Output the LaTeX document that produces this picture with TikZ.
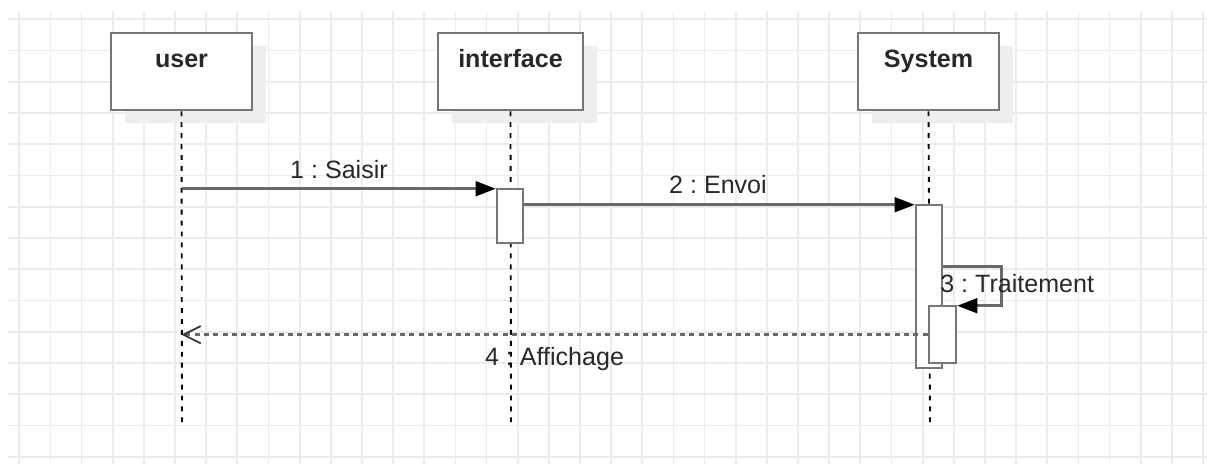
\documentclass[tikz,border=0pt]{standalone}
\usepackage{fontspec}
\setmainfont{Liberation Sans}
\usetikzlibrary{arrows.meta,calc,shadows}
\frenchspacing
\definecolor{gridc}{RGB}{236,236,236}
\definecolor{shadc}{RGB}{238,238,238}
\definecolor{boxc}{RGB}{118,118,118}
\definecolor{linec}{RGB}{105,105,105}
\definecolor{txtc}{RGB}{40,40,40}
\tikzset{
  gridline/.style={draw=gridc,line width=1.3pt},
  lifebox/.style={draw=boxc,line width=1.9pt,fill=white,minimum width=105.75pt,minimum height=57.75pt,inner sep=0pt,
    drop shadow={shadow xshift=10.5pt,shadow yshift=-10pt,fill=shadc,opacity=1}},
  actbox/.style={draw=boxc,line width=1.9pt,fill=white,inner sep=0pt},
  lifeline/.style={draw=black,line width=1.4pt,dash pattern=on 3.7pt off 4.5pt},
  msg/.style={draw=linec,line width=1.9pt,-{Triangle[length=15pt,width=11pt,color=black,fill=black]}},
  ret/.style={draw=linec,line width=1.9pt,dash pattern=on 3.75pt off 3.25pt,-{Straight Barb[length=13pt,width=13pt,line width=1.3pt,color=black!80]}},
  lbl/.style={inner sep=0pt,text=txtc,font=\fontsize{18.8}{22}\selectfont},
  title/.style={inner sep=0pt,text=txtc,font=\fontsize{18.8}{22}\selectfont\bfseries},
}
\begin{document}
\begin{tikzpicture}[x=0.75pt,y=-0.75pt]
\useasboundingbox (0,0) rectangle (1207,464);
\fill[white] (0,0) rectangle (1207,464);
% grid
\foreach \k in {0,...,38} \draw[gridline] ({19.3+31.15*\k},11) -- ({19.3+31.15*\k},464);
\foreach \k in {0,...,14} \draw[gridline] (8,{19.3+31.25*\k}) -- (1207,{19.3+31.25*\k});
% participant boxes
\node[lifebox] (ubox) at (181.5,71.5) {};
\node[lifebox,minimum width=108.75pt] (ibox) at (510.5,71.5) {};
\node[lifebox] (sbox) at (928.5,71.5) {};
\node[title,anchor=base] (ut) at (181.5,67) {user};
\node[title,anchor=base] (it) at (510.5,67) {interface};
\node[title,anchor=base] (st) at (928.5,67) {System};
% lifeline ends
\coordinate (uend) at (182,422);
\coordinate (iend) at (511,422);
\coordinate (send) at (930,422);
\draw[lifeline] (ubox.south) -- (uend);
\draw[lifeline] (ibox.south) -- (iend);
\draw[lifeline] (sbox.south) -- (send);
% activation boxes
\node[actbox,minimum width=19.5pt,minimum height=40.5pt] (iact) at (510,216) {};
\node[actbox,minimum width=19.5pt,minimum height=122.25pt] (sact) at (929,286.5) {};
\node[actbox,minimum width=20.25pt,minimum height=42.75pt] (nact) at (942.5,334.5) {};
% message anchor points
\coordinate (p1) at ($(iact.north west)+(0,1)$);
\coordinate (p2) at ($(sact.north west)+(0,1)$);
\coordinate (p2s) at ($(iact.north east)+(0,17)$);
\coordinate (p3s) at ($(sact.north east)+(0,63)$);
\coordinate (p3) at ($(nact.north east)+(0,1)$);
\coordinate (p4s) at ($(nact.north west)+(0,30)$);
% messages
\draw[msg] (ubox.south |- p1) -- (p1);
\node[lbl,anchor=base] (m1) at (339,178) {1 : Saisir};
\draw[msg] (p2s) -- (p2s -| p2);
\node[lbl,anchor=base] (m2) at (718,193) {2 : Envoi};
\draw[msg] (p3s) -- ++(58,0) |- (p3);
\node[lbl,anchor=base west] (m3) at (940,292) {3 : Traitement};
\draw[ret] (p4s) -- (ubox.south |- p4s);
\node[lbl,anchor=base] (m4) at (554.5,365) {4 : Affichage};
\end{tikzpicture}
\end{document}
